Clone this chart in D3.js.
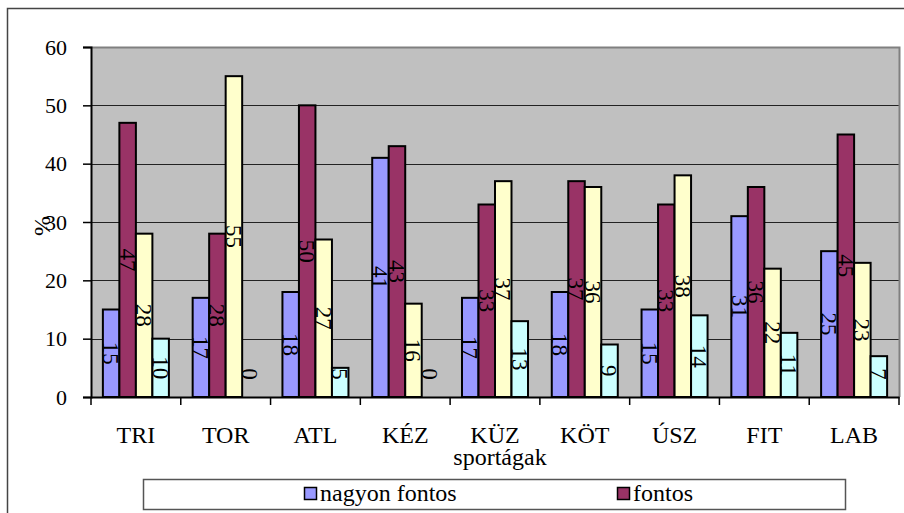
<!DOCTYPE html>
<html>
<head>
<meta charset="utf-8">
<script src="https://cdn.jsdelivr.net/npm/d3@7"></script>
<style>
  body { margin: 0; background: #fff; }
</style>
</head>
<body>
<script>
// categories and series
var categories = ["TRI", "TOR", "ATL", "KÉZ", "KÜZ", "KÖT", "ÚSZ", "FIT", "LAB"];
var seriesNames = ["nagyon fontos", "fontos", "kevésbé fontos", "nem fontos"];
var seriesColors = ["#9999ff", "#993366", "#ffffcc", "#ccffff"];
var nagyonFontos = [15, 17, 18, 41, 17, 18, 15, 31, 25];
var fontos       = [47, 28, 50, 43, 33, 37, 33, 36, 45];
var kevesbe      = [28, 55, 27, 16, 37, 36, 38, 22, 23];
var nemFontos    = [10, 0, 5, 0, 13, 9, 14, 11, 7];
var yTicks = [0, 10, 20, 30, 40, 50, 60];

var seriesValues = [nagyonFontos, fontos, kevesbe, nemFontos];

var FONT = "Liberation Serif";
var width = 904, height = 513;
var plot = {left: 91, right: 899, top: 47, bottom: 397};

var svg = d3.select("body").append("svg")
    .attr("width", width)
    .attr("height", height)
    .style("font-family", FONT);

// outer chart frame (runs off the right / bottom edge)
svg.append("rect")
    .attr("x", 7.5).attr("y", 8.5)
    .attr("width", 940).attr("height", 540)
    .attr("fill", "#fff")
    .attr("stroke", "#444")
    .attr("stroke-width", 1.5);

var x0 = d3.scaleBand()
    .domain(categories)
    .range([plot.left, plot.right])
    .paddingInner(0).paddingOuter(0);

var x1 = d3.scaleBand()
    .domain(d3.range(seriesNames.length))
    .range([0, x0.bandwidth()])
    .paddingInner(0).paddingOuter(0.72);

var y = d3.scaleLinear()
    .domain([0, 60])
    .range([plot.bottom, plot.top]);

// plot background
svg.append("rect")
    .attr("x", plot.left).attr("y", plot.top)
    .attr("width", plot.right - plot.left)
    .attr("height", plot.bottom - plot.top)
    .attr("fill", "#c0c0c0");

// gridlines
svg.append("g")
    .selectAll("line")
    .data(yTicks.filter(function(d) { return d > 0 && d < 60; }))
    .enter().append("line")
    .attr("x1", plot.left).attr("x2", plot.right)
    .attr("y1", function(d) { return Math.round(y(d)) + 0.5; })
    .attr("y2", function(d) { return Math.round(y(d)) + 0.5; })
    .attr("stroke", "#222")
    .attr("stroke-width", 1);

// plot border top / right
svg.append("path")
    .attr("d", "M" + plot.left + "," + (plot.top + 0.5) + "H" + (plot.right + 0.5) + "V" + plot.bottom)
    .attr("fill", "none")
    .attr("stroke", "#808080")
    .attr("stroke-width", 2);

// bars
var groups = svg.append("g")
    .selectAll("g")
    .data(categories)
    .enter().append("g")
    .attr("transform", function(d) { return "translate(" + x0(d) + ",0)"; });

function cells(d, i) {
    return seriesValues.map(function(vals, s) { return {s: s, v: vals[i]}; });
}

groups.selectAll("rect")
    .data(cells)
    .enter().filter(function(d) { return d.v > 0; }).append("rect")
    .attr("x", function(d) { return x1(d.s); })
    .attr("y", function(d) { return y(d.v); })
    .attr("width", x1.bandwidth())
    .attr("height", function(d) { return y(0) - y(d.v); })
    .attr("fill", function(d) { return seriesColors[d.s]; })
    .attr("stroke", "#000")
    .attr("stroke-width", 2);

// value labels, rotated, centred in the bar (kept off the axis)
groups.selectAll("text")
    .data(cells)
    .enter().append("text")
    .attr("transform", function(d) {
        var cx = x1(d.s) + x1.bandwidth() / 2;
        var cy = Math.min(y(d.v / 2), y(0) - 23);
        return "translate(" + cx + "," + cy + ") rotate(90)";
    })
    .attr("text-anchor", "middle")
    .attr("dy", "0.35em")
    .style("font-family", FONT)
    .style("font-size", "23px")
    .attr("fill", "#000")
    .text(function(d) { return d.v; });

// y axis
var yAxis = d3.axisLeft(y)
    .tickValues(yTicks)
    .tickSize(8)
    .tickPadding(16);

var gy = svg.append("g")
    .attr("transform", "translate(" + plot.left + ",0)")
    .call(yAxis)
    .attr("font-family", null)
    .attr("font-size", null);
gy.select(".domain").attr("stroke", "#000").attr("stroke-width", 2);
gy.selectAll(".tick line").attr("stroke", "#000").attr("stroke-width", 1.5);
gy.selectAll(".tick text")
    .style("font-family", FONT)
    .style("font-size", "22px")
    .attr("fill", "#000");

// x axis
var xAxis = d3.axisBottom(x0)
    .tickSize(0)
    .tickPadding(29);

var gx = svg.append("g")
    .attr("transform", "translate(0," + plot.bottom + ")")
    .call(xAxis)
    .attr("font-family", null)
    .attr("font-size", null);
gx.select(".domain").attr("stroke", "#000").attr("stroke-width", 2);
gx.selectAll(".tick text")
    .style("font-family", FONT)
    .style("font-size", "24px")
    .attr("fill", "#000");

// category boundary ticks
gx.append("g")
    .selectAll("line")
    .data(d3.range(categories.length + 1))
    .enter().append("line")
    .attr("x1", function(i) { return plot.left + i * x0.step(); })
    .attr("x2", function(i) { return plot.left + i * x0.step(); })
    .attr("y1", 0).attr("y2", 8)
    .attr("stroke", "#000")
    .attr("stroke-width", 1.5);

// axis titles
svg.append("text")
    .attr("transform", "translate(42,226) rotate(-90)")
    .attr("text-anchor", "middle")
    .attr("dy", "0.35em")
    .style("font-family", FONT)
    .style("font-size", "24px")
    .text("%");

svg.append("text")
    .attr("x", 500).attr("y", 465)
    .attr("text-anchor", "middle")
    .style("font-family", FONT)
    .style("font-size", "24px")
    .text("sportágak");

// legend (box runs past the bottom of the picture)
var legend = svg.append("g");
legend.append("rect")
    .attr("x", 143.5).attr("y", 479.5)
    .attr("width", 702).attr("height", 30)
    .attr("fill", "#fff")
    .attr("stroke", "#555")
    .attr("stroke-width", 1.5);

var legendX = [304, 617];
var items = legend.selectAll("g.item")
    .data(seriesNames.slice(0, 2))
    .enter().append("g")
    .attr("class", "item")
    .attr("transform", function(d, i) { return "translate(" + legendX[i] + ",487)"; });

items.append("rect")
    .attr("x", 0.5).attr("y", 0.5)
    .attr("width", 12).attr("height", 12)
    .attr("fill", function(d, i) { return seriesColors[i]; })
    .attr("stroke", "#000")
    .attr("stroke-width", 1.5);

items.append("text")
    .attr("x", 16).attr("y", 14)
    .style("font-family", FONT)
    .style("font-size", "24px")
    .attr("fill", "#000")
    .text(function(d) { return d; });
</script>
</body>
</html>
